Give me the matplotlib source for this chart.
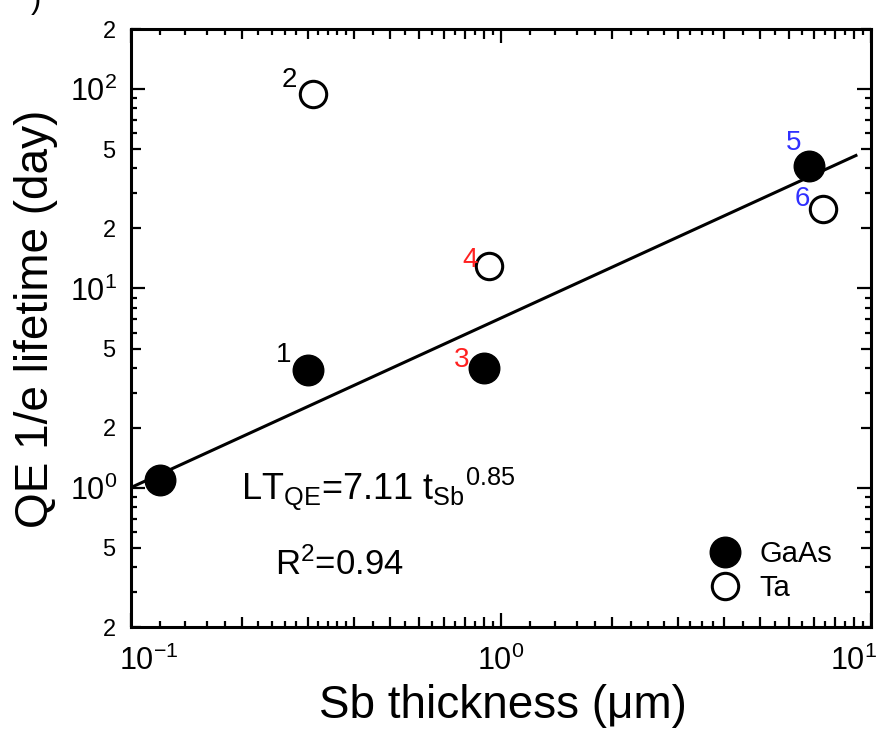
# -*- coding: utf-8 -*-
"""
QE 1/e lifetime vs Sb thickness (log-log)
"""
import matplotlib
matplotlib.use("Agg")
import numpy as np
import matplotlib.pyplot as plt
from matplotlib.ticker import FixedLocator, FixedFormatter, NullFormatter
from matplotlib.transforms import ScaledTranslation

plt.rcParams['font.family'] = ['Liberation Sans', 'DejaVu Sans']
plt.rcParams['mathtext.fontset'] = 'custom'
plt.rcParams['mathtext.rm'] = 'Liberation Sans'
plt.rcParams['mathtext.it'] = 'Liberation Sans'
plt.rcParams['mathtext.default'] = 'regular'

# ========== data ==========
# GaAs substrate (filled)
gaas_x = [0.12, 0.30, 0.90, 6.8]
gaas_y = [1.1, 3.9, 4.0, 41]
gaas_ids = ["", "1", "3", "5"]
# Ta substrate (open)
ta_x = [0.31, 0.93, 7.4]
ta_y = [95, 13, 25]
ta_ids = ["2", "4", "6"]

# label colours for sample numbers
id_colors = {"1": "black", "2": "black", "3": "#ff2020",
             "4": "#ff2020", "5": "#3030ff", "6": "#3030ff"}
# label offsets (points) relative to the marker
id_offsets = {"1": (-17, 11), "2": (-17, 10), "3": (-16, 6),
              "4": (-14, 4), "5": (-11, 17), "6": (-15, 7)}

# fit LT = A * t^B
fit_a = 7.11
fit_b = 0.85
fit_r2 = 0.94
fit_range = [0.1, 9.1]

# ========== figure ==========
fig = plt.figure(figsize=(8.79, 7.45), dpi=100)
ax = fig.add_axes([0.149, 0.158, 0.842, 0.803])
ax.set_xscale('log')
ax.set_yscale('log')
ax.set_xlim(0.1, 10)
ax.set_ylim(0.2, 200)

fx = np.array(fit_range)
ax.plot(fx, fit_a * fx ** fit_b, color='black', lw=2.2, zorder=2)

ax.plot(gaas_x, gaas_y, 'o', color='black', ms=22, zorder=3, label='GaAs')
ax.plot(ta_x, ta_y, 'o', mfc='white', mec='black', mew=2.2, ms=19,
        zorder=3, label='Ta')

for xs, ys, ids in [(gaas_x, gaas_y, gaas_ids), (ta_x, ta_y, ta_ids)]:
    for x, y, s in zip(xs, ys, ids):
        if not s:
            continue
        ax.annotate(s, (x, y), xytext=id_offsets[s], textcoords='offset points',
                    ha='center', va='center', fontsize=20, color=id_colors[s])

ax.text(0.148, 0.213, r'LT$_{QE}$=7.11 t$_{Sb}$$^{0.85}$', transform=ax.transAxes,
        fontsize=26, ha='left', va='baseline')
ax.text(0.195, 0.087, r'R$^{2}$=%.2f' % fit_r2, transform=ax.transAxes,
        fontsize=25, ha='left', va='baseline')

leg = ax.legend(loc='center left', bbox_to_anchor=(0.763, 0.094), frameon=False,
                fontsize=21, handletextpad=0.6, labelspacing=0.2,
                handlelength=1.2, numpoints=1, markerscale=1.0,
                borderaxespad=0)

# ---- ticks ----
x_major = [0.1, 1, 10]
x_mid = [m * d for d in (0.1, 1) for m in range(2, 10)]
x_small = ([0.12, 0.14, 0.16, 0.18, 0.22, 0.24, 0.26, 0.28, 0.32, 0.34, 0.36, 0.38, 0.45]
           + [0.55, 0.65, 0.75, 0.85, 0.95]
           + [1.2, 1.4, 1.6, 1.8, 2.25, 2.5, 2.75, 3.25, 3.5, 3.75, 4.5]
           + [5.5, 6.5, 7.5, 8.5, 9.5])
x_minor = x_mid + x_small

y_major = [1, 10, 100]
y_minor = [0.2, 0.3, 0.4, 0.5, 0.6, 0.7, 0.8, 0.9,
           2, 3, 4, 5, 6, 7, 8, 9,
           20, 30, 40, 50, 60, 70, 80, 90, 200]
y_labeled = {0.2: '2', 0.5: '5', 2: '2', 5: '5', 20: '2', 50: '5', 200: '2'}
y_minor_labels = [y_labeled.get(v, '') for v in y_minor]

ax.xaxis.set_major_locator(FixedLocator(x_major))
ax.xaxis.set_major_formatter(FixedFormatter([r'$10^{-1}$', r'$10^{0}$', r'$10^{1}$']))
ax.xaxis.set_minor_locator(FixedLocator(x_minor))
ax.xaxis.set_minor_formatter(NullFormatter())

ax.yaxis.set_major_locator(FixedLocator(y_major))
ax.yaxis.set_major_formatter(FixedFormatter([r'$10^{0}$', r'$10^{1}$', r'$10^{2}$']))
ax.yaxis.set_minor_locator(FixedLocator(y_minor))
ax.yaxis.set_minor_formatter(FixedFormatter(y_minor_labels))

ax.tick_params(which='both', direction='in', top=True, right=True, width=1.6)
ax.tick_params(which='major', length=10, labelsize=22)
ax.tick_params(axis='x', which='major', pad=13)
ax.tick_params(axis='y', which='major', pad=10)
ax.tick_params(axis='y', which='minor', labelsize=17, pad=11)
for sp in ax.spines.values():
    sp.set_linewidth(2.2)

# per-tick lengths: medium for 2..9 (x) / 2,5 (y), short for the rest
for t, v in zip(ax.xaxis.get_minor_ticks(len(x_minor)), x_minor):
    L = 7 if v in x_mid else 4
    t.tick1line.set_markersize(L)
    t.tick2line.set_markersize(L)
for t, lab in zip(ax.yaxis.get_minor_ticks(len(y_minor)), y_minor_labels):
    L = 7 if lab else 4
    t.tick1line.set_markersize(L)
    t.tick2line.set_markersize(L)

# shift the outer x labels inward like the original
xl = ax.xaxis.get_majorticklabels()
xl[0].set_transform(xl[0].get_transform() + ScaledTranslation(0.18, 0, fig.dpi_scale_trans))
xl[-1].set_transform(xl[-1].get_transform() + ScaledTranslation(-0.18, 0, fig.dpi_scale_trans))

ax.set_xlabel(u'Sb thickness (\u03bcm)', fontsize=33)
ax.xaxis.set_label_coords(0.502, -0.095)
ax.set_ylabel('QE 1/e lifetime (day)', fontsize=33)
ax.yaxis.set_label_coords(-0.098, 0.515)

# cropped panel label fragment at the very top-left
fig.text(0.041, 1.0, ')', fontsize=22, ha='center', va='center')

fig.savefig('out.png', dpi=100)
